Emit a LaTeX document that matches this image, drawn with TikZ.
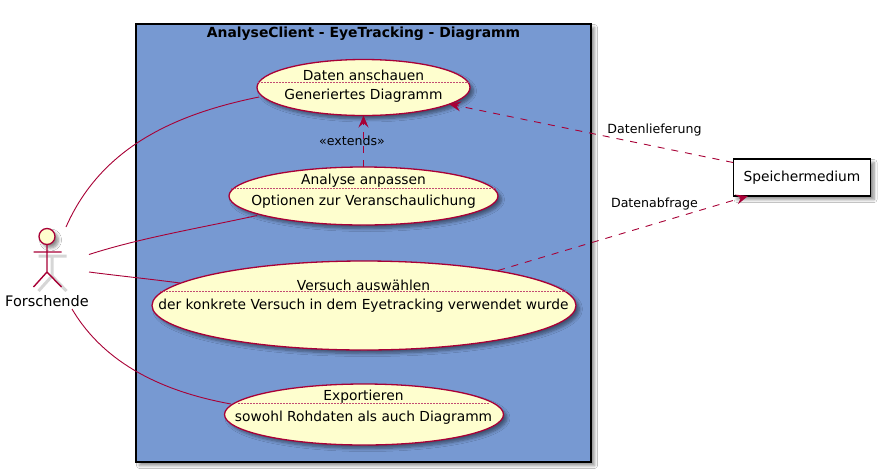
\documentclass[tikz,border=0pt]{standalone}
\usepackage{fontspec}
\setmainfont{DejaVu Sans}
\usetikzlibrary{shapes.geometric,arrows.meta,shadows.blur}
\definecolor{plred}{HTML}{A80036}
\definecolor{plfill}{HTML}{FEFECE}
\definecolor{plblue}{HTML}{7799D2}
\tikzset{
  psh/.style={blur shadow={shadow xshift=3.5pt,shadow yshift=-3.5pt,shadow blur steps=6,shadow blur radius=3pt,shadow opacity=45}},
  usecase/.style={ellipse,draw=plred,fill=plfill,line width=1.3pt,inner sep=0pt,outer sep=0pt,psh},
  txt/.style={font=\fontsize{13.8}{16}\selectfont,text=black,inner sep=0pt},
  small/.style={font=\fontsize{12.6}{15}\selectfont,text=black,inner sep=0pt},
  assoc/.style={draw=plred,line width=.9pt},
  dep/.style={draw=plred,line width=.9pt,dash pattern=on 7pt off 7pt},
  deparrow/.style={dep,-{Stealth[length=12pt,width=10pt,inset=4.5pt,fill=plred]}},
  divider/.style={draw=plred!70!white,line width=.8pt,dash pattern=on 1.5pt off 1.5pt},
  figure/.style={draw=plred,line width=1.4pt},
  figshadow/.style={draw=black!40,line width=3pt,opacity=.4},
}
\begin{document}
\begin{tikzpicture}[x=1pt,y=-1pt]
\useasboundingbox (0,0) rectangle (880,472);
\fill[white] (0,0) rectangle (880,472);
% package
\node[draw=black,fill=plblue,line width=1.3pt,minimum width=455pt,minimum height=438pt,inner sep=0pt,psh] (pkg) at (363.5,243) {};
\node[font=\bfseries\fontsize{13.9}{16}\selectfont,inner sep=0pt] (pkgtitle) at (363.5,34) {AnalyseClient - EyeTracking - Diagramm};
% use cases
\node[usecase,minimum width=213pt,minimum height=56pt] (uc1) at (363.5,87.5) {};
\node[usecase,minimum width=269pt,minimum height=58pt] (uc2) at (363.5,196) {};
\node[usecase,minimum width=424pt,minimum height=89pt] (uc3) at (364,305.5) {};
\node[usecase,minimum width=279pt,minimum height=61pt] (uc4) at (364,414.5) {};
\node[txt] (t1a) at (363.5,75.5) {Daten anschauen};
\node[txt] (t1b) at (363.5,95.5) {Generiertes Diagramm};
\node[txt] (t2a) at (363.5,180.5) {Analyse anpassen};
\node[txt] (t2b) at (363.5,201.5) {Optionen zur Veranschaulichung};
\node[txt] (t3a) at (363.5,285) {Versuch auswählen};
\node[txt] (t3b) at (363.5,305.5) {der konkrete Versuch in dem Eyetracking verwendet wurde};
\node[txt] (t4a) at (363.5,396.5) {Exportieren};
\node[txt] (t4b) at (363.5,417.5) {sowohl Rohdaten als auch Diagramm};
\draw[divider] (258,82) -- (469,82);
\draw[divider] (231,188.5) -- (496,188.5);
\draw[divider] (160,291.5) -- (568,291.5);
\draw[divider] (238,403.5) -- (489,403.5);
% storage
\node[draw=black,fill=white,line width=1.1pt,minimum width=137pt,minimum height=37pt,inner sep=0pt,psh] (store) at (802,177.5) {};
\node[txt] (storet) at (802,177.5) {Speichermedium};
% actor
\draw[figshadow] (52,255) -- (52,276) (38.5,256) -- (66.5,256) (38.5,291) -- (52,276) -- (66.5,291);
\node[circle,draw=plred,fill=plfill,line width=1.3pt,minimum size=16pt,inner sep=0pt,psh] (head) at (47,236.5) {};
\coordinate (hip) at (47,272);
\coordinate (armL) at (33.5,252);
\coordinate (armR) at (61.5,252);
\coordinate (footL) at (33.5,287);
\coordinate (footR) at (61.5,287);
\draw[figure] (head.south) -- (hip) (armL) -- (armR) (footL) -- (hip) -- (footR);
\node[font=\fontsize{14.5}{16}\selectfont,inner sep=0pt] (actor) at (47,301) {Forschende};
% associations
\coordinate (a1) at (66,227);
\coordinate (a2) at (89,254.5);
\coordinate (a3) at (89,272);
\coordinate (a4) at (72,309);
\coordinate (e1) at (259,97);
\coordinate (e2) at (257,215.5);
\coordinate (e3) at (180,283);
\coordinate (e4) at (231,404);
\draw[assoc] (a1) .. controls (100,150) and (170,115) .. (e1);
\draw[assoc] (a2) .. controls (140,238) and (200,228) .. (e2);
\draw[assoc] (a3) .. controls (120,276) and (150,279) .. (e3);
\draw[assoc] (a4) .. controls (105,365) and (165,392) .. (e4);
% dependencies
\coordinate (x1) at (363.5,167);
\coordinate (x2) at (363.5,115.5);
\draw[deparrow] (x1) -- (x2);
\node[small] (extl) at (352,140.5) {«extends»};
\coordinate (s1) at (733,162.5);
\coordinate (u1) at (449,104);
\draw[deparrow] (s1) -- (u1);
\node[small] (lbl1) at (654.5,130) {Datenlieferung};
\coordinate (u3) at (498,270.5);
\coordinate (s2) at (748,196);
\draw[deparrow] (u3) -- (s2);
\node[small] (lbl2) at (654.5,204) {Datenabfrage};
\end{tikzpicture}
\end{document}
